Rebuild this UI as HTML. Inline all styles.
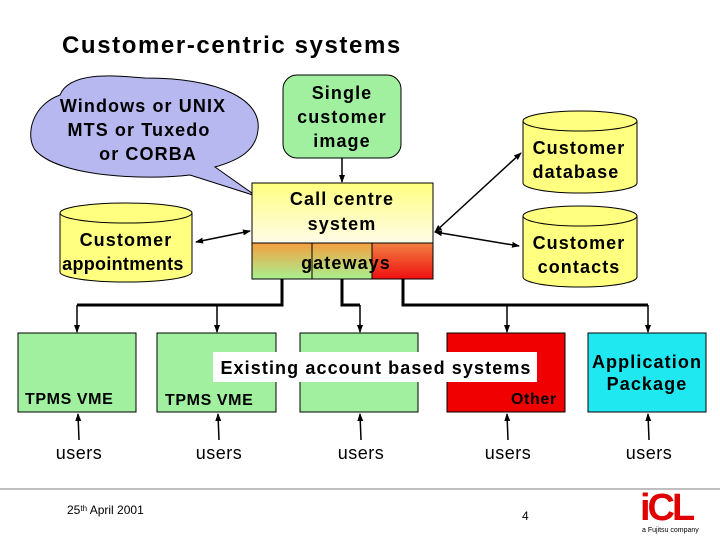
<!DOCTYPE html>
<html><head><meta charset="utf-8"><style>
body{margin:0;background:#fff}
svg{display:block;font-family:"Liberation Sans",Arial,sans-serif}
.b{font-size:18px;font-weight:bold;letter-spacing:1.1px}
</style></head><body>
<svg width="720" height="540" viewBox="0 0 720 540" xmlns="http://www.w3.org/2000/svg">
<defs>
<marker id="a" markerWidth="8" markerHeight="8" refX="7" refY="4" orient="auto" markerUnits="userSpaceOnUse"><path d="M0,1 L8,4 L0,7 z" fill="#000"/></marker>
<marker id="s" markerWidth="8" markerHeight="8" refX="1" refY="4" orient="auto" markerUnits="userSpaceOnUse"><path d="M8,1 L0,4 L8,7 z" fill="#000"/></marker>
<linearGradient id="cc" x1="0" y1="0" x2="0" y2="1"><stop offset="0" stop-color="#ffff80"/><stop offset="1" stop-color="#fffbe8"/></linearGradient>
<linearGradient id="g1" x1="0" y1="0" x2="0" y2="1"><stop offset="0" stop-color="#f4a040"/><stop offset="1" stop-color="#a8f090"/></linearGradient>
<linearGradient id="g3" x1="0" y1="0" x2="0" y2="1"><stop offset="0" stop-color="#f08040"/><stop offset="1" stop-color="#f01010"/></linearGradient>
</defs>
<text x="62" y="53" font-size="24" font-weight="bold" letter-spacing="1.6">Customer-centric systems</text>

<path d="M60,95 C70,70 120,76 145,78 C220,78 262,100 258,130 C256,150 240,160 215,167 L256,196 L190,175 C150,180 60,178 35,150 C25,135 32,105 60,95 Z" fill="#b8b8f0" stroke="#000"/>
<text class="b" text-anchor="middle"><tspan x="143" y="112">Windows or UNIX</tspan><tspan x="139" y="136">MTS or Tuxedo</tspan><tspan x="148" y="160">or CORBA</tspan></text>

<rect x="283" y="75" width="118" height="83" rx="14" fill="#a0f0a0" stroke="#000"/>
<text class="b" text-anchor="middle"><tspan x="342" y="99">Single</tspan><tspan x="342" y="123">customer</tspan><tspan x="342" y="147">image</tspan></text>
<line x1="342" y1="158" x2="342" y2="182" stroke="#000" stroke-width="1.5" marker-end="url(#a)"/>

<rect x="252" y="183" width="181" height="60" fill="url(#cc)" stroke="#000"/>
<rect x="252" y="243" width="60" height="36" fill="url(#g1)" stroke="#000"/>
<rect x="312" y="243" width="60" height="36" fill="url(#g1)" stroke="#000"/>
<rect x="372" y="243" width="61" height="36" fill="url(#g3)" stroke="#000"/>
<text class="b" text-anchor="middle"><tspan x="342" y="205">Call centre</tspan><tspan x="342" y="230">system</tspan><tspan x="346" y="269">gateways</tspan></text>

<g fill="#ffff80" stroke="#000">
<path d="M60,213 V272 A66,10 0 0 0 192,272 V213"/><ellipse cx="126" cy="213" rx="66" ry="10"/>
<path d="M523,121 V183 A57,10 0 0 0 637,183 V121"/><ellipse cx="580" cy="121" rx="57" ry="10"/>
<path d="M523,216 V277 A57,10 0 0 0 637,277 V216"/><ellipse cx="580" cy="216" rx="57" ry="10"/>
</g>
<text class="b" text-anchor="middle"><tspan x="126" y="246">Customer</tspan><tspan x="126" y="270" letter-spacing="0.3">appointments</tspan>
<tspan x="579" y="154">Customer</tspan><tspan x="579" y="178">database</tspan>
<tspan x="579" y="249">Customer</tspan><tspan x="579" y="273">contacts</tspan></text>

<g stroke="#000" stroke-width="1.5">
<line x1="196" y1="242" x2="250" y2="231" marker-start="url(#s)" marker-end="url(#a)"/>
<line x1="435" y1="232" x2="521" y2="153" marker-start="url(#s)" marker-end="url(#a)"/>
<line x1="435" y1="232" x2="519" y2="246" marker-start="url(#s)" marker-end="url(#a)"/>
</g>

<g stroke="#000" stroke-width="3" fill="none">
<polyline points="282,279 282,305 77,305"/>
<polyline points="342,279 342,305 360,305"/>
<polyline points="403,279 403,305 648,305"/>
</g>
<g stroke="#000" stroke-width="1.5">
<line x1="77" y1="305" x2="77" y2="332" marker-end="url(#a)"/>
<line x1="217" y1="305" x2="217" y2="332" marker-end="url(#a)"/>
<line x1="360" y1="305" x2="360" y2="332" marker-end="url(#a)"/>
<line x1="507" y1="305" x2="507" y2="332" marker-end="url(#a)"/>
<line x1="648" y1="305" x2="648" y2="332" marker-end="url(#a)"/>
</g>

<g stroke="#000">
<rect x="18" y="333" width="118" height="79" fill="#a0f0a0"/>
<rect x="157" y="333" width="119" height="79" fill="#a0f0a0"/>
<rect x="300" y="333" width="118" height="79" fill="#a0f0a0"/>
<rect x="447" y="333" width="118" height="79" fill="#f00000"/>
<rect x="588" y="333" width="118" height="79" fill="#20e8f0"/>
</g>
<rect x="213" y="352" width="324" height="30" fill="#fff"/>
<text x="376" y="374" class="b" text-anchor="middle" letter-spacing="1.3">Existing account based systems</text>
<text font-size="16" font-weight="bold" letter-spacing="0.6"><tspan x="25" y="404">TPMS VME</tspan><tspan x="165" y="405">TPMS VME</tspan><tspan x="511" y="404">Other</tspan></text>
<text class="b" font-size="17" text-anchor="middle" letter-spacing="0.6"><tspan x="647" y="368">Application</tspan><tspan x="647" y="390">Package</tspan></text>

<g stroke="#000" stroke-width="1.5">
<line x1="79" y1="440" x2="78" y2="414" marker-end="url(#a)"/>
<line x1="219" y1="440" x2="218" y2="414" marker-end="url(#a)"/>
<line x1="361" y1="440" x2="360" y2="414" marker-end="url(#a)"/>
<line x1="508" y1="440" x2="507" y2="414" marker-end="url(#a)"/>
<line x1="649" y1="440" x2="648" y2="414" marker-end="url(#a)"/>
</g>
<text font-size="18" text-anchor="middle" letter-spacing="0.5"><tspan x="79" y="459">users</tspan><tspan x="219" y="459">users</tspan><tspan x="361" y="459">users</tspan><tspan x="508" y="459">users</tspan><tspan x="649" y="459">users</tspan></text>

<line x1="0" y1="489" x2="720" y2="489" stroke="#aaa" stroke-width="1.5"/>
<text x="67" y="514" font-size="12">25<tspan font-size="8" dy="-3">th</tspan><tspan dy="3"> April 2001</tspan></text>
<text x="522" y="520" font-size="12">4</text>
<text x="640" y="520" font-size="38" font-weight="bold" fill="#e00000" letter-spacing="-3">iCL</text>
<text x="642" y="532" font-size="7">a Fujitsu company</text>
</svg>
</body></html>
